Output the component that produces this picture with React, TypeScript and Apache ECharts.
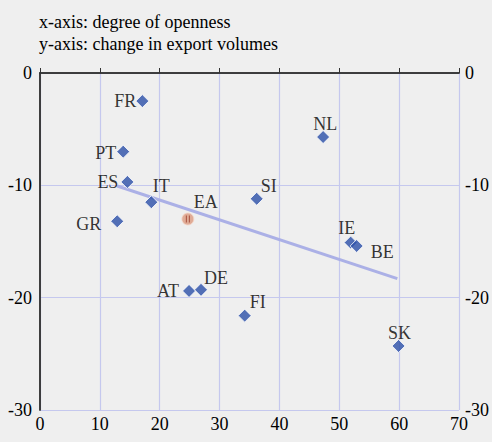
import React, { useEffect, useRef } from "react";
import * as echarts from "echarts";

const countries = ["FR", "PT", "ES", "IT", "GR", "SI", "NL", "IE", "BE", "AT", "DE", "FI", "SK"];
const openness = [17.1, 13.9, 14.6, 18.6, 12.9, 36.2, 47.3, 51.9, 52.9, 24.9, 26.9, 34.2, 59.9];
const exportChange = [-2.5, -7.0, -9.7, -11.5, -13.2, -11.2, -5.7, -15.1, -15.4, -19.4, -19.3, -21.6, -24.3];
const labelPositions = ["left", "left", "left", "top", "left", "right", "top", "top", "right", "left", "right", "right", "top"];
const labelOffsets = [[4, 0], [3, 1], [1, 0], [10, 3], [-6, 3], [-6, -13], [2, 6], [-4, 4], [4, 6], [0, 0], [-7, -12], [-5, -14], [1, 6]];

const euroArea = { name: "EA", x: 24.7, y: -13.0 };
const trendX = [12.9, 59.7];
const trendY = [-10.06, -18.3];

const xTicks = [0, 10, 20, 30, 40, 50, 60, 70];
const yTicks = [0, -10, -20, -30];

const titleLines = ["x-axis: degree of openness", "y-axis: change in export volumes"];

export default function App() {
  const ref = useRef<HTMLDivElement>(null);
  useEffect(() => {
    if (!ref.current) return;
    document.body.style.margin = "0";
    const chart = echarts.init(ref.current, undefined, { renderer: "svg" });
    const font = "Times New Roman";
    const axisCol = "#333333";
    const gridCol = "#c5c8ee";
    const fs = 18;
    const txt = "#000";
    const points = countries.map((c, i) => ({
      value: [openness[i], exportChange[i]],
      name: c,
      label: {
        show: true,
        position: labelPositions[i],
        offset: labelOffsets[i],
        formatter: c,
      },
    }));
    chart.setOption({
      animation: false,
      backgroundColor: "#efefef",
      textStyle: { fontFamily: font },
      title: {
        text: titleLines.join("\n"),
        left: 34,
        top: 6,
        textStyle: { fontFamily: font, fontSize: 18, fontWeight: "normal", color: txt, lineHeight: 22 },
      },
      grid: { left: 40, right: 30, top: 73, bottom: 32, containLabel: false },
      xAxis: [
        {
          type: "value",
          min: 0,
          max: 70,
          interval: 10,
          position: "bottom",
          axisLine: { show: true, lineStyle: { color: axisCol, width: 1.5 } },
          axisTick: { show: true, inside: true, length: 5, lineStyle: { color: axisCol } },
          axisLabel: { color: txt, fontFamily: font, fontSize: fs, margin: 5 },
          splitLine: { show: true, lineStyle: { color: gridCol, width: 1.2 } },
        },
        {
          type: "value",
          min: 0,
          max: 70,
          interval: 10,
          position: "top",
          axisLine: { show: true, lineStyle: { color: axisCol, width: 1.5 } },
          axisTick: { show: false },
          axisLabel: { show: false },
          splitLine: { show: false },
        },
      ],
      yAxis: [
        {
          type: "value",
          min: -30,
          max: 0,
          interval: 10,
          position: "left",
          axisLine: { show: true, lineStyle: { color: axisCol, width: 1.5 } },
          axisTick: { show: false },
          axisLabel: { color: txt, fontFamily: font, fontSize: fs, margin: 8 },
          splitLine: { show: true, lineStyle: { color: gridCol, width: 1.2 } },
        },
        {
          type: "value",
          min: -30,
          max: 0,
          interval: 10,
          position: "right",
          axisLine: { show: true, lineStyle: { color: axisCol, width: 1.5 } },
          axisTick: { show: false },
          axisLabel: { color: txt, fontFamily: font, fontSize: fs, margin: 6 },
          splitLine: { show: false },
        },
      ],
      series: [
        {
          type: "line",
          data: trendX.map((x, i) => [x, trendY[i]]),
          symbol: "none",
          lineStyle: { color: "#abb0e6", width: 3 },
          silent: true,
          z: 2,
        },
        {
          type: "scatter",
          data: points,
          symbol: "diamond",
          symbolSize: 13,
          itemStyle: { color: "#2b4fa8", borderColor: "#ffffff", borderWidth: 1 },
          label: { color: txt, fontFamily: font, fontSize: fs, distance: 3 },
          z: 5,
        },
        {
          type: "scatter",
          data: [{ value: [euroArea.x, euroArea.y], name: euroArea.name }],
          symbol: "circle",
          symbolSize: 12,
          itemStyle: { color: "#dc9a80", borderColor: "#f4d8cc", borderWidth: 1 },
          label: {
            show: true,
            formatter: euroArea.name,
            position: "top",
            offset: [18, 3],
            color: txt,
            fontFamily: font,
            fontSize: fs,
          },
          z: 5,
        },
        {
          type: "scatter",
          data: [[euroArea.x, euroArea.y]],
          symbol: "path://M0,0 L1,0 L1,10 L0,10 Z M3,0 L4,0 L4,10 L3,10 Z",
          symbolSize: [4, 7],
          itemStyle: { color: "#9a3a2a" },
          silent: true,
          z: 6,
        },
      ],
    });
    return () => chart.dispose();
  }, []);
  return <div ref={ref} style={{ width: 492, height: 442 }} />;
}
